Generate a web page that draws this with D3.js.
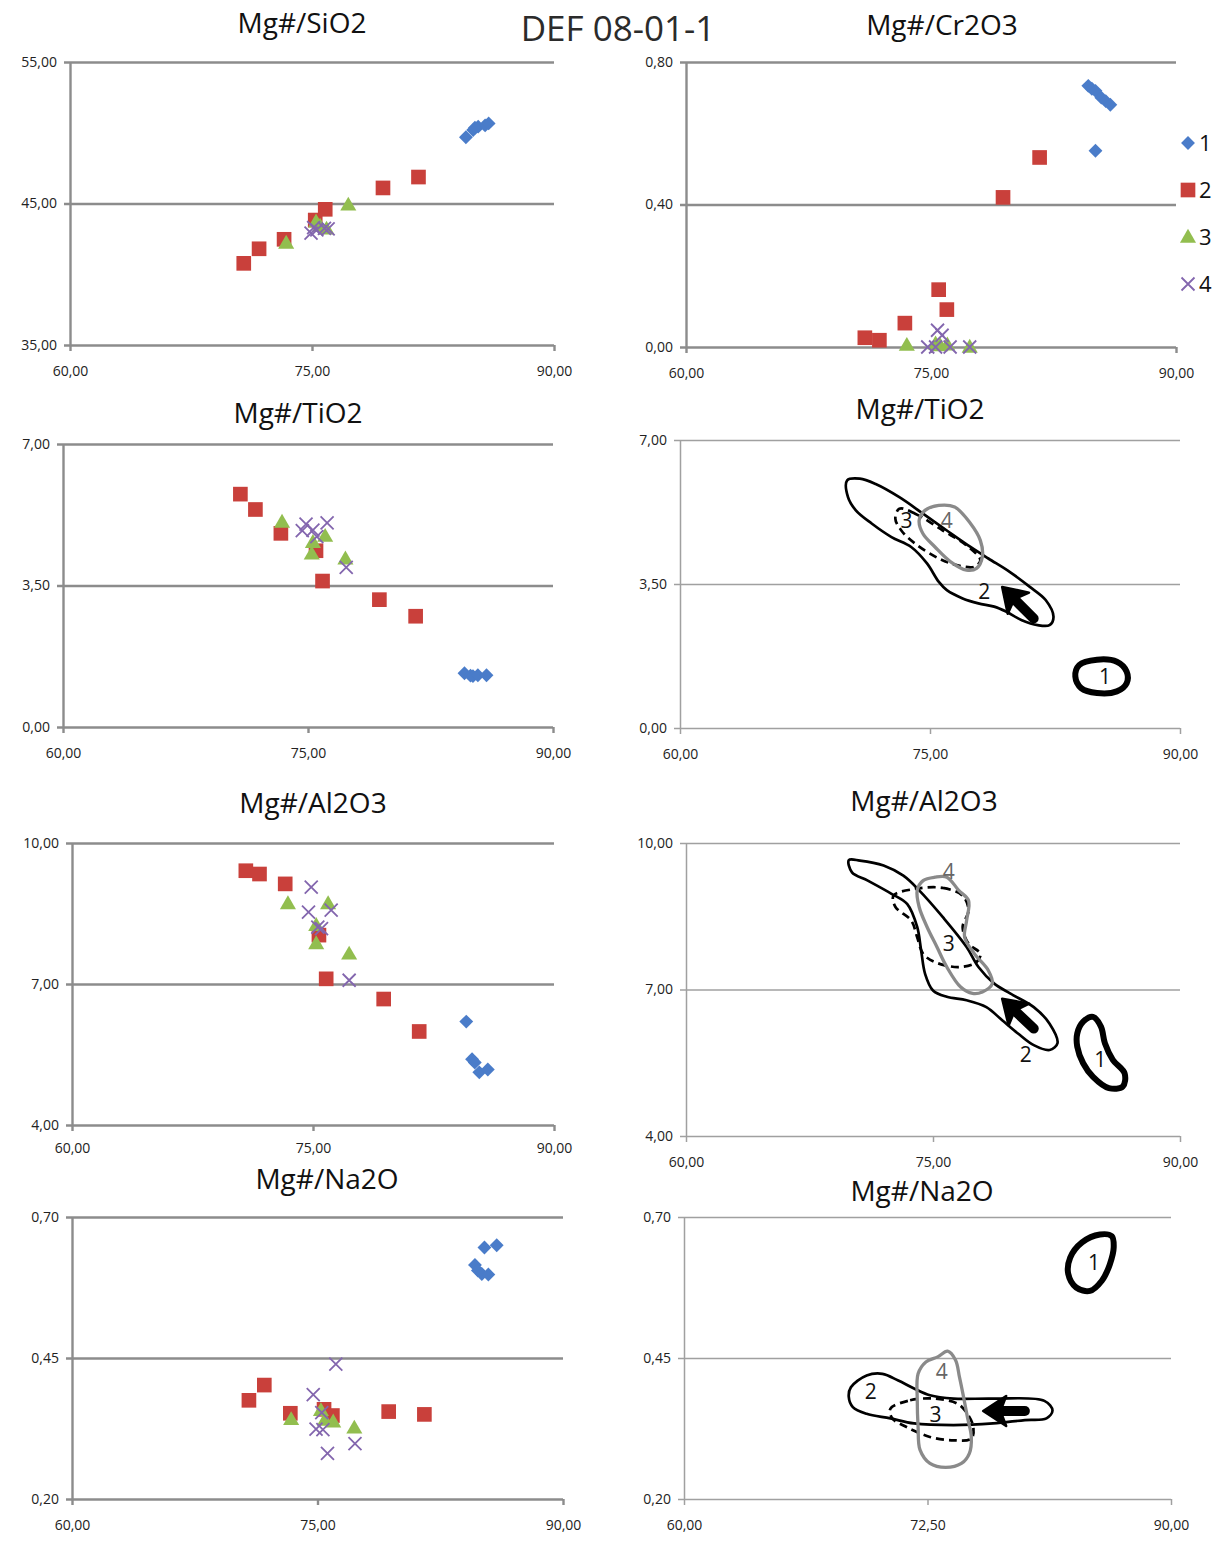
<!DOCTYPE html>
<html>
<head>
<meta charset="utf-8">
<script src="https://cdn.jsdelivr.net/npm/d3@7"></script>
<style>
  body { margin: 0; background: #fff; }
  svg { display: block; }
  text { font-family: "Open Sans", "Noto Sans", sans-serif; }
</style>
</head>
<body>
<svg id="chart" width="1218" height="1542"></svg>
<script>
// ---- tick values and labels ----
const xTicks = [60, 75, 90];
const xTickLabels = ["60,00", "75,00", "90,00"];
const xTickLabelsNa = ["60,00", "72,50", "90,00"];
const sio2Ticks = [35, 45, 55];
const sio2Labels = ["35,00", "45,00", "55,00"];
const cr2o3Ticks = [0, 0.4, 0.8];
const cr2o3Labels = ["0,00", "0,40", "0,80"];
const tio2Ticks = [0, 3.5, 7];
const tio2Labels = ["0,00", "3,50", "7,00"];
const al2o3Ticks = [4, 7, 10];
const al2o3Labels = ["4,00", "7,00", "10,00"];
const na2oTicks = [0.2, 0.45, 0.7];
const na2oLabels = ["0,20", "0,45", "0,70"];
const legendLabels = ["1", "2", "3", "4"];

// ---- analyses: [Mg#, oxide wt%] per group ----
const sio2_1 = [[84.54,49.68],[84.99,50.19],[85.3,50.43],[85.73,50.52],[85.95,50.66],[85.1,50.35]];
const sio2_2 = [[70.77,40.77],[71.72,41.8],[73.27,42.47],[75.2,43.83],[75.82,44.59],[79.4,46.1],[81.6,46.87]];
const sio2_3 = [[73.4,42.2],[75.25,43.7],[75.9,43.2],[77.25,44.9],[75.5,43.4]];
const sio2_4 = [[74.94,42.9],[75.3,43.13],[75.77,43.25],[76.0,43.2],[75.1,43.3]];

const cr2o3_1 = [[84.63,0.733],[84.85,0.725],[85.07,0.719],[85.43,0.70],[85.7,0.69],[85.98,0.68],[85.07,0.551]];
const cr2o3_2 = [[70.95,0.026],[71.84,0.019],[73.4,0.067],[75.47,0.161],[75.97,0.105],[79.41,0.42],[81.65,0.532]];
const cr2o3_3 = [[73.52,0.005],[75.28,0.009],[75.56,0.004],[76.0,0.006],[77.37,0.0]];
const cr2o3_4 = [[74.8,0.0],[75.28,0.0],[75.4,0.047],[75.68,0.033],[76.17,0.0],[77.37,0.0]];

const tio2_1 = [[84.58,1.33],[84.95,1.27],[85.1,1.26],[85.4,1.28],[85.93,1.28]];
const tio2_2 = [[70.86,5.76],[71.78,5.38],[73.34,4.79],[75.49,4.36],[75.89,3.61],[79.37,3.15],[81.59,2.74]];
const tio2_3 = [[73.41,5.07],[75.23,4.28],[75.3,4.57],[76.05,4.72],[77.29,4.16]];
const tio2_4 = [[74.88,5.02],[74.65,4.86],[75.3,4.87],[75.54,4.71],[76.17,5.05],[77.34,3.95]];

const al2o3_1 = [[84.54,6.2],[84.9,5.4],[85.07,5.33],[85.35,5.12],[85.88,5.18]];
const al2o3_2 = [[70.82,9.41],[71.67,9.34],[73.27,9.13],[75.37,8.04],[75.82,7.11],[79.4,6.68],[81.61,5.99]];
const al2o3_3 = [[73.44,8.71],[75.2,8.25],[75.2,7.86],[75.94,8.71],[77.25,7.64]];
const al2o3_4 = [[74.89,9.06],[74.72,8.53],[75.3,8.21],[75.53,8.18],[76.13,8.57],[77.25,7.08]];

const na2o_1 = [[84.62,0.615],[84.8,0.605],[85.04,0.599],[85.44,0.598],[85.2,0.646],[85.95,0.65]];
const na2o_2 = [[70.81,0.375],[71.75,0.402],[73.34,0.352],[75.4,0.359],[75.91,0.348],[79.35,0.355],[81.53,0.35]];
const na2o_3 = [[73.39,0.341],[75.21,0.357],[75.45,0.34],[75.96,0.337],[77.25,0.326]];
const na2o_4 = [[74.74,0.385],[76.12,0.439],[74.91,0.324],[75.33,0.323],[75.26,0.353],[75.61,0.281],[77.29,0.298]];

// ---- field outlines of the groups: [Mg#, oxide] ----
const tio2Zone1 = [[83.72,1.25],[83.95,1.53],[85.02,1.66],[86.21,1.61],[86.8,1.37],[86.8,1.09],[86.21,0.89],[85.02,0.85],[84.07,0.97]];
const tio2Zone2 = [[70.03,6.02],[70.79,6.06],[71.74,5.93],[73.16,5.61],[74.58,5.21],[76.01,4.80],[77.43,4.40],[78.5,4.12],[79.8,3.79],[80.99,3.43],[81.94,3.11],[82.41,2.70],[82.17,2.50],[81.46,2.50],[80.51,2.62],[79.56,2.83],[78.85,2.95],[77.9,3.03],[76.96,3.15],[76.01,3.35],[75.53,3.55],[74.82,4.0],[73.87,4.40],[72.69,4.64],[71.5,4.97],[70.55,5.29],[70.08,5.61]];
const tio2Zone3 = [[73.16,5.33],[74.11,5.21],[75.77,4.80],[77.19,4.44],[78.02,4.08],[77.67,3.92],[76.6,3.96],[75.53,4.12],[74.11,4.48],[73.28,4.80],[72.92,5.09]];
const tio2Zone4 = [[75.53,5.41],[76.48,5.37],[77.43,4.97],[78.02,4.56],[78.14,4.16],[77.79,3.88],[77.19,3.84],[76.24,4.04],[75.3,4.40],[74.58,4.72],[74.35,5.05],[74.7,5.29]];
const tio2Arrow = [[81.22,2.66],[79.33,3.43]];
const tio2ZoneLabels = [[85.5,1.25],[78.26,3.31],[73.59,5.05],[76.0,5.05]];

const al2o3Zone1 = [[84.12,6.34],[84.72,6.44],[85.2,6.24],[85.44,5.9],[85.92,5.56],[86.64,5.28],[86.52,5.01],[85.68,4.98],[84.72,5.21],[84.12,5.49],[83.76,5.83],[83.76,6.1]];
const al2o3Zone2 = [[69.89,9.65],[70.56,9.64],[72.0,9.54],[73.2,9.33],[74.16,9.03],[75.6,8.48],[77.04,7.87],[77.76,7.46],[78.72,7.12],[79.68,6.92],[81.12,6.64],[82.08,6.30],[82.56,5.90],[82.08,5.76],[81.12,5.86],[80.16,6.10],[79.2,6.37],[78.24,6.64],[77.04,6.78],[75.84,6.85],[75.0,6.98],[74.52,7.32],[74.28,7.80],[74.04,8.28],[73.44,8.75],[72.48,8.96],[71.04,9.23],[70.08,9.40]];
const al2o3Zone3 = [[73.92,9.06],[75.6,9.08],[76.8,8.92],[77.16,8.62],[76.8,8.28],[77.16,7.94],[77.88,7.73],[77.64,7.56],[76.56,7.46],[75.12,7.56],[74.4,7.73],[74.04,8.07],[73.68,8.41],[72.72,8.69],[72.6,8.92]];
const al2o3Zone4 = [[75.12,9.30],[75.84,9.30],[76.56,9.03],[77.16,8.82],[77.04,8.41],[76.92,8.07],[77.52,7.73],[78.36,7.39],[78.6,7.12],[78.0,6.95],[77.4,6.92],[76.68,7.05],[75.84,7.46],[75.24,7.87],[74.64,8.28],[74.16,8.69],[74.04,9.03],[74.4,9.23]];
const al2o3Arrow = [[81.12,6.2],[79.2,6.81]];
const al2o3ZoneLabels = [[85.15,5.56],[80.64,5.66],[75.96,7.94],[75.96,9.42]];

const na2oZone1 = [[85.62,0.669],[86.35,0.666],[86.47,0.646],[86.23,0.616],[85.74,0.587],[85.01,0.569],[84.16,0.575],[83.67,0.599],[83.79,0.628],[84.52,0.655]];
const na2oZone2 = [[70.28,0.398],[71.25,0.419],[72.22,0.422],[73.2,0.41],[74.17,0.396],[75.15,0.384],[76.6,0.378],[79.04,0.378],[82.2,0.374],[82.7,0.357],[82.33,0.343],[81.0,0.34],[79.04,0.334],[76.6,0.331],[74.17,0.334],[72.71,0.343],[71.25,0.351],[70.4,0.363],[70.15,0.381]];
const na2oZone3 = [[72.71,0.36],[73.93,0.375],[75.39,0.378],[76.85,0.369],[77.46,0.351],[77.82,0.328],[77.7,0.307],[76.6,0.304],[75.15,0.31],[73.68,0.328],[72.83,0.343]];
const na2oZone4 = [[76.24,0.462],[76.73,0.446],[76.97,0.416],[77.22,0.381],[77.46,0.345],[77.7,0.31],[77.58,0.281],[77.09,0.263],[76.12,0.256],[75.15,0.263],[74.54,0.287],[74.42,0.328],[74.37,0.375],[74.42,0.422],[74.9,0.443],[75.63,0.452]];
const na2oArrow = [[81.0,0.356],[78.43,0.356]];
const na2oZoneLabels = [[85.25,0.619],[71.5,0.39],[75.5,0.35],[75.88,0.425]];

// ---- styles ----
const seriesColor = ["#4a7cc9", "#c9403b", "#92be4f", "#8366ae"];
const zoneStroke = ["#000", "#000", "#000", "#8a8a8a"];
const zoneWidth = [6, 2.7, 2.7, 3.3];
const zoneDash = [null, null, "8,5", null];
const zoneLabelColor = ["#111", "#111", "#111", "#666"];

const svg = d3.select("#chart");

svg.append("text")
  .attr("x", 618).attr("y", 41)
  .attr("text-anchor", "middle")
  .attr("font-size", 35)
  .attr("fill", "#2b2b2b")
  .text("DEF 08-01-1");

const panels = [
  { title: "Mg#/SiO2", box: [70, 554, 62, 345], tx: 302, ty: 33, yDom: [35, 55], yTicks: sio2Ticks, yLabels: sio2Labels, xLabels: xTickLabels,
    series: [sio2_1, sio2_2, sio2_3, sio2_4] },
  { title: "Mg#/Cr2O3", box: [686, 1176, 62, 347], tx: 942, ty: 35, yDom: [0, 0.8], yTicks: cr2o3Ticks, yLabels: cr2o3Labels, xLabels: xTickLabels,
    series: [cr2o3_1, cr2o3_2, cr2o3_3, cr2o3_4], legend: true },
  { title: "Mg#/TiO2", box: [63, 553, 444, 727], tx: 298, ty: 423, yDom: [0, 7], yTicks: tio2Ticks, yLabels: tio2Labels, xLabels: xTickLabels,
    series: [tio2_1, tio2_2, tio2_3, tio2_4] },
  { title: "Mg#/TiO2", box: [680, 1180, 440, 728], tx: 920, ty: 419, yDom: [0, 7], yTicks: tio2Ticks, yLabels: tio2Labels, xLabels: xTickLabels,
    zones: [tio2Zone1, tio2Zone2, tio2Zone3, tio2Zone4], arrow: tio2Arrow, zoneLabels: tio2ZoneLabels },
  { title: "Mg#/Al2O3", box: [72, 554, 843, 1125], tx: 313, ty: 813, yDom: [4, 10], yTicks: al2o3Ticks, yLabels: al2o3Labels, xLabels: xTickLabels,
    series: [al2o3_1, al2o3_2, al2o3_3, al2o3_4], xPad: 12 },
  { title: "Mg#/Al2O3", box: [686, 1180, 843, 1136], tx: 924, ty: 811, yDom: [4, 10], yTicks: al2o3Ticks, yLabels: al2o3Labels, xLabels: xTickLabels,
    zones: [al2o3Zone1, al2o3Zone2, al2o3Zone3, al2o3Zone4], arrow: al2o3Arrow, zoneLabels: al2o3ZoneLabels },
  { title: "Mg#/Na2O", box: [72, 563, 1217, 1499], tx: 327, ty: 1189, yDom: [0.2, 0.7], yTicks: na2oTicks, yLabels: na2oLabels, xLabels: xTickLabels,
    series: [na2o_1, na2o_2, na2o_3, na2o_4] },
  { title: "Mg#/Na2O", box: [684, 1171, 1217, 1499], tx: 922, ty: 1201, yDom: [0.2, 0.7], yTicks: na2oTicks, yLabels: na2oLabels, xLabels: xTickLabelsNa,
    zones: [na2oZone1, na2oZone2, na2oZone3, na2oZone4], arrow: na2oArrow, zoneLabels: na2oZoneLabels }
];

// marker shapes for the four groups
function markerPath(i) {
  if (i === 0) return d3.symbol(d3.symbolSquare, 96)();
  if (i === 1) return d3.symbol(d3.symbolSquare, 215)();
  if (i === 2) return d3.symbol(d3.symbolTriangle, 112)();
  return "M-6.5,-6.5L6.5,6.5M-6.5,6.5L6.5,-6.5";
}
function drawMarker(sel, i) {
  const p = sel.append("path").attr("d", markerPath(i));
  if (i === 3) {
    p.attr("fill", "none").attr("stroke", seriesColor[i]).attr("stroke-width", 1.8);
  } else {
    p.attr("fill", seriesColor[i]);
  }
  if (i === 0) p.attr("transform", "rotate(45)");
  if (i === 2) p.attr("transform", "translate(0,1)");
  return p;
}

panels.forEach(p => {
  const [l, r, t, b] = p.box;
  const isZone = !!p.zones;
  const gridColor = isZone ? "#a0a0a0" : "#8c8c8c";
  const gridWidth = isZone ? 1.5 : 2.4;

  const x = d3.scaleLinear().domain([60, 90]).range([l, r]);
  const y = d3.scaleLinear().domain(p.yDom).range([b, t]);
  const g = svg.append("g");

  g.append("text")
    .attr("x", p.tx).attr("y", p.ty)
    .attr("text-anchor", "middle")
    .attr("font-size", 28)
    .attr("fill", "#111")
    .text(p.title);

  // horizontal gridlines and y labels
  const yAxis = d3.axisLeft(y)
    .tickValues(p.yTicks)
    .tickFormat((d, i) => p.yLabels[i])
    .tickSizeInner(-(r - l))
    .tickSizeOuter(0)
    .tickPadding(13);
  const ya = g.append("g").attr("transform", `translate(${l},0)`).call(yAxis);
  ya.select(".domain").attr("stroke", gridColor).attr("stroke-width", gridWidth);
  ya.selectAll(".tick line").attr("x1", -6).attr("stroke", gridColor).attr("stroke-width", gridWidth);
  ya.selectAll(".tick text").attr("font-size", 14).attr("fill", "#222")
    .style("font-family", '"Open Sans", sans-serif');

  // x ticks and labels along the bottom line
  const xAxis = d3.axisBottom(x)
    .tickValues(xTicks)
    .tickFormat((d, i) => p.xLabels[i])
    .tickSizeInner(6)
    .tickSizeOuter(0)
    .tickPadding(p.xPad || 15);
  const xa = g.append("g").attr("transform", `translate(0,${b})`).call(xAxis);
  xa.select(".domain").remove();
  xa.selectAll(".tick line").attr("stroke", gridColor).attr("stroke-width", gridWidth);
  xa.selectAll(".tick text").attr("font-size", 14).attr("fill", "#222")
    .style("font-family", '"Open Sans", sans-serif');

  if (p.series) {
    p.series.forEach((pts, i) => {
      g.append("g").selectAll("g").data(pts).join("g")
        .attr("transform", d => `translate(${x(d[0])},${y(d[1])})`)
        .each(function () { drawMarker(d3.select(this), i); });
    });
  }

  if (p.legend) {
    const ly = [143, 190, 237, 284];
    legendLabels.forEach((lab, i) => {
      const lg = g.append("g").attr("transform", `translate(${r + 12},${ly[i]})`);
      drawMarker(lg, i);
      lg.append("text").attr("x", 11).attr("y", 8)
        .attr("font-size", 22).attr("fill", "#111")
        .style("font-family", '"Liberation Sans Narrow", "Open Sans", sans-serif')
        .text(lab);
    });
  }

  if (p.zones) {
    const line = d3.line()
      .x(d => x(d[0])).y(d => y(d[1]))
      .curve(d3.curveCatmullRomClosed.alpha(0.5));
    // draw order: 2, 3, 4, 1
    [1, 2, 3, 0].forEach(i => {
      g.append("path")
        .attr("d", line(p.zones[i]))
        .attr("fill", "none")
        .attr("stroke", zoneStroke[i])
        .attr("stroke-width", zoneWidth[i])
        .attr("stroke-dasharray", zoneDash[i])
        .attr("stroke-linejoin", "round");
    });

    // trend arrow
    const [x0, y0] = [x(p.arrow[0][0]), y(p.arrow[0][1])];
    const [x1, y1] = [x(p.arrow[1][0]), y(p.arrow[1][1])];
    const len = Math.hypot(x1 - x0, y1 - y0);
    const ux = (x1 - x0) / len, uy = (y1 - y0) / len;
    const nx = -uy, ny = ux;
    const hl = 23, hw = 15;
    g.append("line")
      .attr("x1", x0).attr("y1", y0)
      .attr("x2", x1 - ux * hl * 0.6).attr("y2", y1 - uy * hl * 0.6)
      .attr("stroke", "#000").attr("stroke-width", 10).attr("stroke-linecap", "round");
    g.append("path")
      .attr("d", `M${x1},${y1}L${x1 - ux * hl + nx * hw},${y1 - uy * hl + ny * hw}L${x1 - ux * hl * 0.75},${y1 - uy * hl * 0.75}L${x1 - ux * hl - nx * hw},${y1 - uy * hl - ny * hw}Z`)
      .attr("fill", "#000").attr("stroke", "#000").attr("stroke-width", 2.5).attr("stroke-linejoin", "round");

    p.zoneLabels.forEach((d, i) => {
      g.append("text")
        .attr("x", x(d[0])).attr("y", y(d[1]))
        .attr("dy", "0.35em")
        .attr("text-anchor", "middle")
        .attr("font-size", 21)
        .attr("fill", zoneLabelColor[i])
        .text(legendLabels[i]);
    });
  }
});
</script>
</body>
</html>
